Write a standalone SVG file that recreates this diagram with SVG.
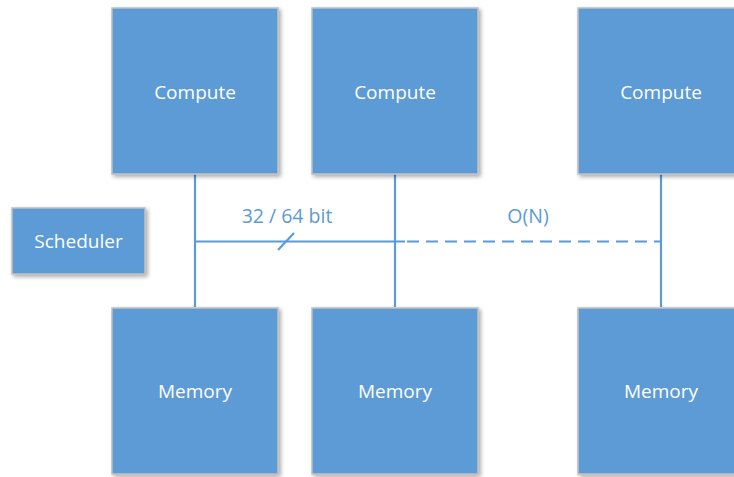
<svg xmlns="http://www.w3.org/2000/svg" width="734" height="477" viewBox="0 0 734 477">
<defs>
<filter id="sh" x="-10%" y="-10%" width="130%" height="130%">
<feGaussianBlur in="SourceAlpha" stdDeviation="2"/>
<feOffset dx="1.5" dy="2" result="b"/>
<feComponentTransfer><feFuncA type="linear" slope="0.35"/></feComponentTransfer>
<feMerge><feMergeNode/><feMergeNode in="SourceGraphic"/></feMerge>
</filter>
<style>
.box{fill:#5b9bd5;stroke:#c0c0c0;stroke-width:1.5;filter:url(#sh)}
.t{fill:#ffffff;font-family:"Open Sans","Liberation Sans",sans-serif;font-size:19px;text-anchor:middle}
.ln{stroke:#5b9bd5;stroke-width:2.2;fill:none}
.lbl{fill:#5b9bd5;font-family:"Open Sans","Liberation Sans",sans-serif;font-size:19.5px;text-anchor:middle}
</style>
</defs>
<rect width="734" height="477" fill="#ffffff"/>
<g id="connectors">
<line class="ln" x1="195" y1="174" x2="195" y2="307"/>
<line class="ln" x1="395" y1="174" x2="395" y2="307"/>
<line class="ln" x1="661" y1="174" x2="661" y2="307"/>
<line class="ln" x1="195" y1="241.5" x2="405" y2="241.5"/>
<line class="ln" x1="407" y1="241.5" x2="660" y2="241.5" stroke-dasharray="12 7"/>
<line class="ln" x1="278" y1="250" x2="294" y2="233"/>
<text class="lbl" x="287" y="223">32 / 64 bit</text>
<text class="lbl" x="528" y="223">O(N)</text>
</g>
<g id="compute1"><rect class="box" x="112" y="8" width="166" height="166"/><text class="t" x="195" y="99">Compute</text></g>
<g id="compute2"><rect class="box" x="312" y="8" width="166" height="166"/><text class="t" x="395" y="99">Compute</text></g>
<g id="compute3"><rect class="box" x="578" y="8" width="166" height="166"/><text class="t" x="661" y="99">Compute</text></g>
<g id="scheduler"><rect class="box" x="12" y="208" width="133" height="66"/><text class="t" x="78.5" y="248">Scheduler</text></g>
<g id="memory1"><rect class="box" x="112" y="308" width="166" height="166"/><text class="t" x="195" y="398">Memory</text></g>
<g id="memory2"><rect class="box" x="312" y="308" width="166" height="166"/><text class="t" x="395" y="398">Memory</text></g>
<g id="memory3"><rect class="box" x="578" y="308" width="166" height="166"/><text class="t" x="661" y="398">Memory</text></g>
</svg>
